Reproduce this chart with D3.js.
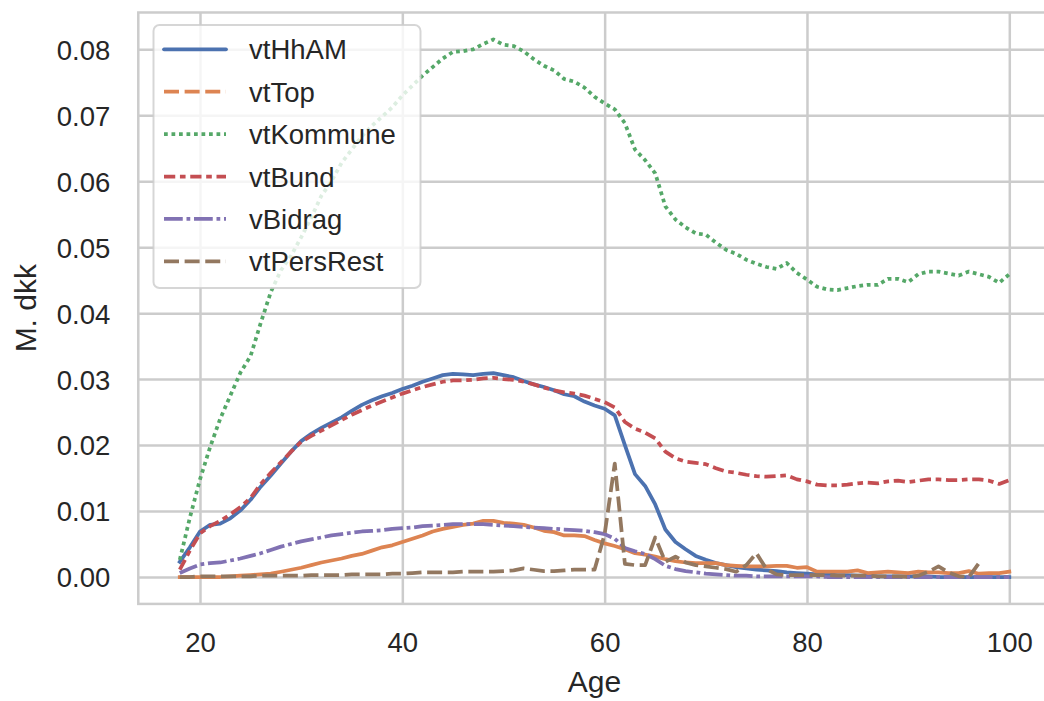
<!DOCTYPE html>
<html>
<head>
<meta charset="utf-8">
<script src="https://cdn.jsdelivr.net/npm/d3@7"></script>
<style>
  body { margin: 0; background: #fff; }
  text { font-family: "Liberation Sans", Arial, sans-serif; fill: #262626; }
</style>
</head>
<body>
<script>
'use strict';

// ages on the x axis
const ages = d3.range(18, 101);

// series values, one per age 18..100 (M. dkk)
const vtHhAM = [
  0.0023, 0.0045, 0.0069, 0.0079, 0.0081, 0.0089, 0.0101, 0.0117, 0.0137, 0.0154,
  0.0172, 0.0190, 0.0206, 0.0217, 0.0226, 0.0234, 0.0242, 0.0252, 0.0261, 0.0268,
  0.0274, 0.0279, 0.0285, 0.0290, 0.0296, 0.0301, 0.0306, 0.0308, 0.0307, 0.0306,
  0.0308, 0.0309, 0.0306, 0.0303, 0.0297, 0.0292, 0.0288, 0.0283, 0.0277, 0.0274,
  0.0266, 0.0260, 0.0255, 0.0245, 0.0200, 0.0156, 0.0138, 0.0110, 0.0072, 0.0053,
  0.0042, 0.0032, 0.0026, 0.0021, 0.0018, 0.0015, 0.0013, 0.0011, 0.0010, 0.0009,
  0.0007, 0.0006, 0.0005, 0.0004, 0.0004, 0.0003, 0.0003, 0.0002, 0.0002, 0.0001,
  0.0001, 0.0001, 0.0001, 0.0001, 0.0001, 0.0000, 0.0000, 0.0000, 0.0000, 0.0000,
  0.0000, 0.0000, 0.0000
];
const vtTop = [
  0.0000, 0.0000, 0.0000, 0.0000, 0.0000, 0.0001, 0.0002, 0.0003, 0.0004, 0.0005,
  0.0008, 0.0011, 0.0014, 0.0018, 0.0022, 0.0025, 0.0028, 0.0032, 0.0035, 0.0040,
  0.0045, 0.0048, 0.0053, 0.0058, 0.0063, 0.0069, 0.0073, 0.0076, 0.0079, 0.0081,
  0.0085, 0.0085, 0.0082, 0.0081, 0.0079, 0.0075, 0.0070, 0.0068, 0.0063, 0.0063,
  0.0062, 0.0056, 0.0051, 0.0047, 0.0042, 0.0036, 0.0034, 0.0031, 0.0027, 0.0024,
  0.0022, 0.0021, 0.0021, 0.0021, 0.0018, 0.0017, 0.0016, 0.0016, 0.0016, 0.0017,
  0.0017, 0.0014, 0.0015, 0.0008, 0.0008, 0.0008, 0.0008, 0.0010, 0.0006, 0.0007,
  0.0008, 0.0007, 0.0006, 0.0008, 0.0007, 0.0007, 0.0006, 0.0006, 0.0009, 0.0005,
  0.0006, 0.0006, 0.0008
];
const vtKommune = [
  0.0026, 0.0090, 0.0148, 0.0197, 0.0240, 0.0275, 0.0310, 0.0335, 0.0385, 0.0432,
  0.0465, 0.0487, 0.0515, 0.0545, 0.0578, 0.0600, 0.0628, 0.0648, 0.0668, 0.0684,
  0.0698, 0.0712, 0.0730, 0.0745, 0.0760, 0.0773, 0.0786, 0.0796, 0.0797, 0.0800,
  0.0808, 0.0815, 0.0807, 0.0805, 0.0797, 0.0785, 0.0775, 0.0768, 0.0755, 0.0751,
  0.0742, 0.0728, 0.0718, 0.0709, 0.0688, 0.0648, 0.0632, 0.0612, 0.0562, 0.0542,
  0.0530, 0.0521, 0.0519, 0.0507, 0.0496, 0.0490, 0.0481, 0.0475, 0.0470, 0.0467,
  0.0476, 0.0461, 0.0451, 0.0440, 0.0436, 0.0435, 0.0438, 0.0441, 0.0443, 0.0443,
  0.0452, 0.0452, 0.0447, 0.0459, 0.0463, 0.0463, 0.0460, 0.0457, 0.0463, 0.0459,
  0.0455, 0.0446, 0.0459
];
const vtBund = [
  0.0011, 0.0040, 0.0066, 0.0077, 0.0085, 0.0095, 0.0106, 0.0120, 0.0141, 0.0158,
  0.0174, 0.0190, 0.0205, 0.0214, 0.0222, 0.0230, 0.0238, 0.0246, 0.0253, 0.0260,
  0.0266, 0.0272, 0.0278, 0.0283, 0.0288, 0.0292, 0.0296, 0.0298, 0.0298, 0.0299,
  0.0301, 0.0302, 0.0300, 0.0299, 0.0296, 0.0292, 0.0287, 0.0283, 0.0280, 0.0278,
  0.0275, 0.0270, 0.0265, 0.0257, 0.0235, 0.0225, 0.0219, 0.0210, 0.0190, 0.0180,
  0.0175, 0.0173, 0.0171, 0.0165, 0.0160, 0.0158, 0.0155, 0.0153, 0.0152, 0.0153,
  0.0154, 0.0148, 0.0145, 0.0140, 0.0139, 0.0139, 0.0140, 0.0142, 0.0143, 0.0142,
  0.0145, 0.0146, 0.0144, 0.0146, 0.0148, 0.0148, 0.0147, 0.0147, 0.0148, 0.0148,
  0.0146, 0.0141, 0.0147
];
const vBidrag = [
  0.0006, 0.0013, 0.0019, 0.0021, 0.0022, 0.0025, 0.0028, 0.0032, 0.0036, 0.0041,
  0.0046, 0.0050, 0.0054, 0.0057, 0.0060, 0.0063, 0.0065, 0.0067, 0.0069, 0.0070,
  0.0071, 0.0073, 0.0074, 0.0075, 0.0077, 0.0078, 0.0079, 0.0080, 0.0080, 0.0080,
  0.0080, 0.0079, 0.0078, 0.0077, 0.0076, 0.0075, 0.0074, 0.0073, 0.0072, 0.0071,
  0.0070, 0.0068, 0.0065, 0.0058, 0.0044, 0.0039, 0.0035, 0.0027, 0.0017, 0.0012,
  0.0009, 0.0007, 0.0005, 0.0004, 0.0003, 0.0002, 0.0002, 0.0001, 0.0001, 0.0001,
  0.0001, 0.0001, 0.0001, 0.0001, 0.0000, 0.0000, 0.0000, 0.0000, 0.0000, 0.0000,
  0.0000, 0.0000, 0.0000, 0.0000, 0.0000, 0.0000, 0.0000, 0.0000, 0.0000, 0.0000,
  0.0000, 0.0000, 0.0000
];
// no values after age 97
const vtPersRest = [
  0.0000, 0.0000, 0.0001, 0.0001, 0.0001, 0.0001, 0.0001, 0.0001, 0.0002, 0.0002,
  0.0002, 0.0002, 0.0002, 0.0003, 0.0003, 0.0003, 0.0003, 0.0004, 0.0004, 0.0004,
  0.0004, 0.0005, 0.0005, 0.0006, 0.0007, 0.0007, 0.0007, 0.0007, 0.0008, 0.0008,
  0.0008, 0.0008, 0.0009, 0.0010, 0.0013, 0.0011, 0.0009, 0.0009, 0.0010, 0.0011,
  0.0011, 0.0011, 0.0065, 0.0172, 0.0020, 0.0018, 0.0018, 0.0060, 0.0023, 0.0031,
  0.0022, 0.0018, 0.0016, 0.0014, 0.0012, 0.0008, 0.0018, 0.0036, 0.0012, 0.0004,
  0.0003, 0.0003, 0.0003, 0.0003, 0.0003, 0.0002, 0.0002, 0.0002, 0.0002, 0.0001,
  0.0001, 0.0001, 0.0000, 0.0002, 0.0008, 0.0016, 0.0007, 0.0001, 0.0000, 0.0021,
  null, null, null
];

const seriesNames = ["vtHhAM", "vtTop", "vtKommune", "vtBund", "vBidrag", "vtPersRest"];
const seriesValues = [vtHhAM, vtTop, vtKommune, vtBund, vBidrag, vtPersRest];
const xTicks = [20, 40, 60, 80, 100];
const yTicks = [0, 0.01, 0.02, 0.03, 0.04, 0.05, 0.06, 0.07, 0.08];

// seaborn "deep" colours; dash specs in line widths (plot lines / legend handles)
const colors = ["#4c72b0", "#dd8452", "#55a868", "#c44e52", "#8172b3", "#937860"];
const lineDashes = [null, null, [1, 1], [3, 1.25, 1.5, 1.25], [5, 1, 1, 1], [4, 1.5]];
const legendDashes = [null, [4, 1.5], [1, 1], [3, 1.25, 1.5, 1.25], [5, 1, 1, 1], [4, 1.5]];
const lw = 3.75;

const width = 1044, height = 701;

let svg = d3.select('body').append('svg')
  .attr('width', width)
  .attr('height', height);

// scales (with matplotlib style 5% margins)
let xScale = d3.scaleLinear().domain([20, 100]).range([200, 1009.3]);
let yScale = d3.scaleLinear().domain([0, 0.08]).range([577, 49.3]);
let x0 = xScale(13.9), x1 = xScale(104.1);
let y0 = yScale(-0.00408), y1 = yScale(0.08558);

svg.append('clipPath').attr('id', 'plotclip')
  .append('rect')
  .attr('x', x0).attr('y', y1)
  .attr('width', x1 - x0).attr('height', y0 - y1);

// grid lines
svg.append('g')
  .attr('transform', `translate(0, ${y0})`)
  .call(d3.axisBottom(xScale).tickValues(xTicks).tickSize(-(y0 - y1)).tickFormat(''))
  .call(g => g.select('.domain').remove())
  .call(g => g.selectAll('line').attr('stroke', '#cccccc').attr('stroke-width', 2.5));

svg.append('g')
  .attr('transform', `translate(${x0}, 0)`)
  .call(d3.axisLeft(yScale).tickValues(yTicks).tickSize(-(x1 - x0)).tickFormat(''))
  .call(g => g.select('.domain').remove())
  .call(g => g.selectAll('line').attr('stroke', '#cccccc').attr('stroke-width', 2.5));

// spines
svg.append('rect')
  .attr('x', x0).attr('y', y1)
  .attr('width', x1 - x0).attr('height', y0 - y1)
  .attr('fill', 'none')
  .attr('stroke', '#cccccc')
  .attr('stroke-width', 2.5);

// lines
let plot = svg.append('g').attr('clip-path', 'url(#plotclip)');
seriesValues.forEach((vals, i) => {
  let line = d3.line()
    .defined(d => d[1] !== null)
    .x(d => xScale(d[0]))
    .y(d => yScale(d[1]));
  plot.append('path')
    .datum(ages.map((a, j) => [a, vals[j]]))
    .attr('d', line)
    .attr('fill', 'none')
    .attr('stroke', colors[i])
    .attr('stroke-width', lw)
    .attr('stroke-linejoin', 'round')
    .attr('stroke-linecap', lineDashes[i] ? 'butt' : 'square')
    .attr('stroke-dasharray', lineDashes[i] ? lineDashes[i].map(v => v * lw).join(',') : null);
});

// tick labels
svg.append('g')
  .attr('transform', `translate(0, ${y0})`)
  .call(d3.axisBottom(xScale).tickValues(xTicks).tickSize(0).tickPadding(29).tickFormat(d3.format('d')))
  .call(g => g.select('.domain').remove())
  .call(g => g.selectAll('text').attr('font-size', 27.5).attr('font-family', null).attr('fill', '#262626'));

svg.append('g')
  .attr('transform', `translate(${x0}, 0)`)
  .call(d3.axisLeft(yScale).tickValues(yTicks).tickSize(0).tickPadding(28).tickFormat(d3.format('.2f')))
  .call(g => g.select('.domain').remove())
  .call(g => g.selectAll('text').attr('font-size', 27.5).attr('font-family', null).attr('fill', '#262626').attr('dy', '0.36em'));

// axis labels
svg.append('text')
  .attr('x', (x0 + x1) / 2)
  .attr('y', 692)
  .attr('text-anchor', 'middle')
  .style('font-size', '30px')
  .text('Age');

svg.append('text')
  .attr('transform', `translate(36, ${(y0 + y1) / 2}) rotate(-90)`)
  .attr('text-anchor', 'middle')
  .style('font-size', '30px')
  .text('M. dkk');

// legend
let legend = svg.append('g');
legend.append('rect')
  .attr('x', 153.5).attr('y', 25)
  .attr('width', 267).attr('height', 263)
  .attr('rx', 6)
  .attr('fill', 'rgba(255,255,255,0.8)')
  .attr('stroke', 'rgba(204,204,204,0.8)')
  .attr('stroke-width', 2);

seriesNames.forEach((name, i) => {
  let ly = 49.3 + i * 42.4;
  legend.append('line')
    .attr('x1', 164).attr('x2', 226)
    .attr('y1', ly).attr('y2', ly)
    .attr('stroke', colors[i])
    .attr('stroke-width', lw)
    .attr('stroke-linecap', legendDashes[i] ? 'butt' : 'round')
    .attr('stroke-dasharray', legendDashes[i] ? legendDashes[i].map(v => v * lw).join(',') : null);
  legend.append('text')
    .attr('x', 249)
    .attr('y', ly + 10)
    .style('font-size', '27.5px')
    .text(name);
});
</script>
</body>
</html>
